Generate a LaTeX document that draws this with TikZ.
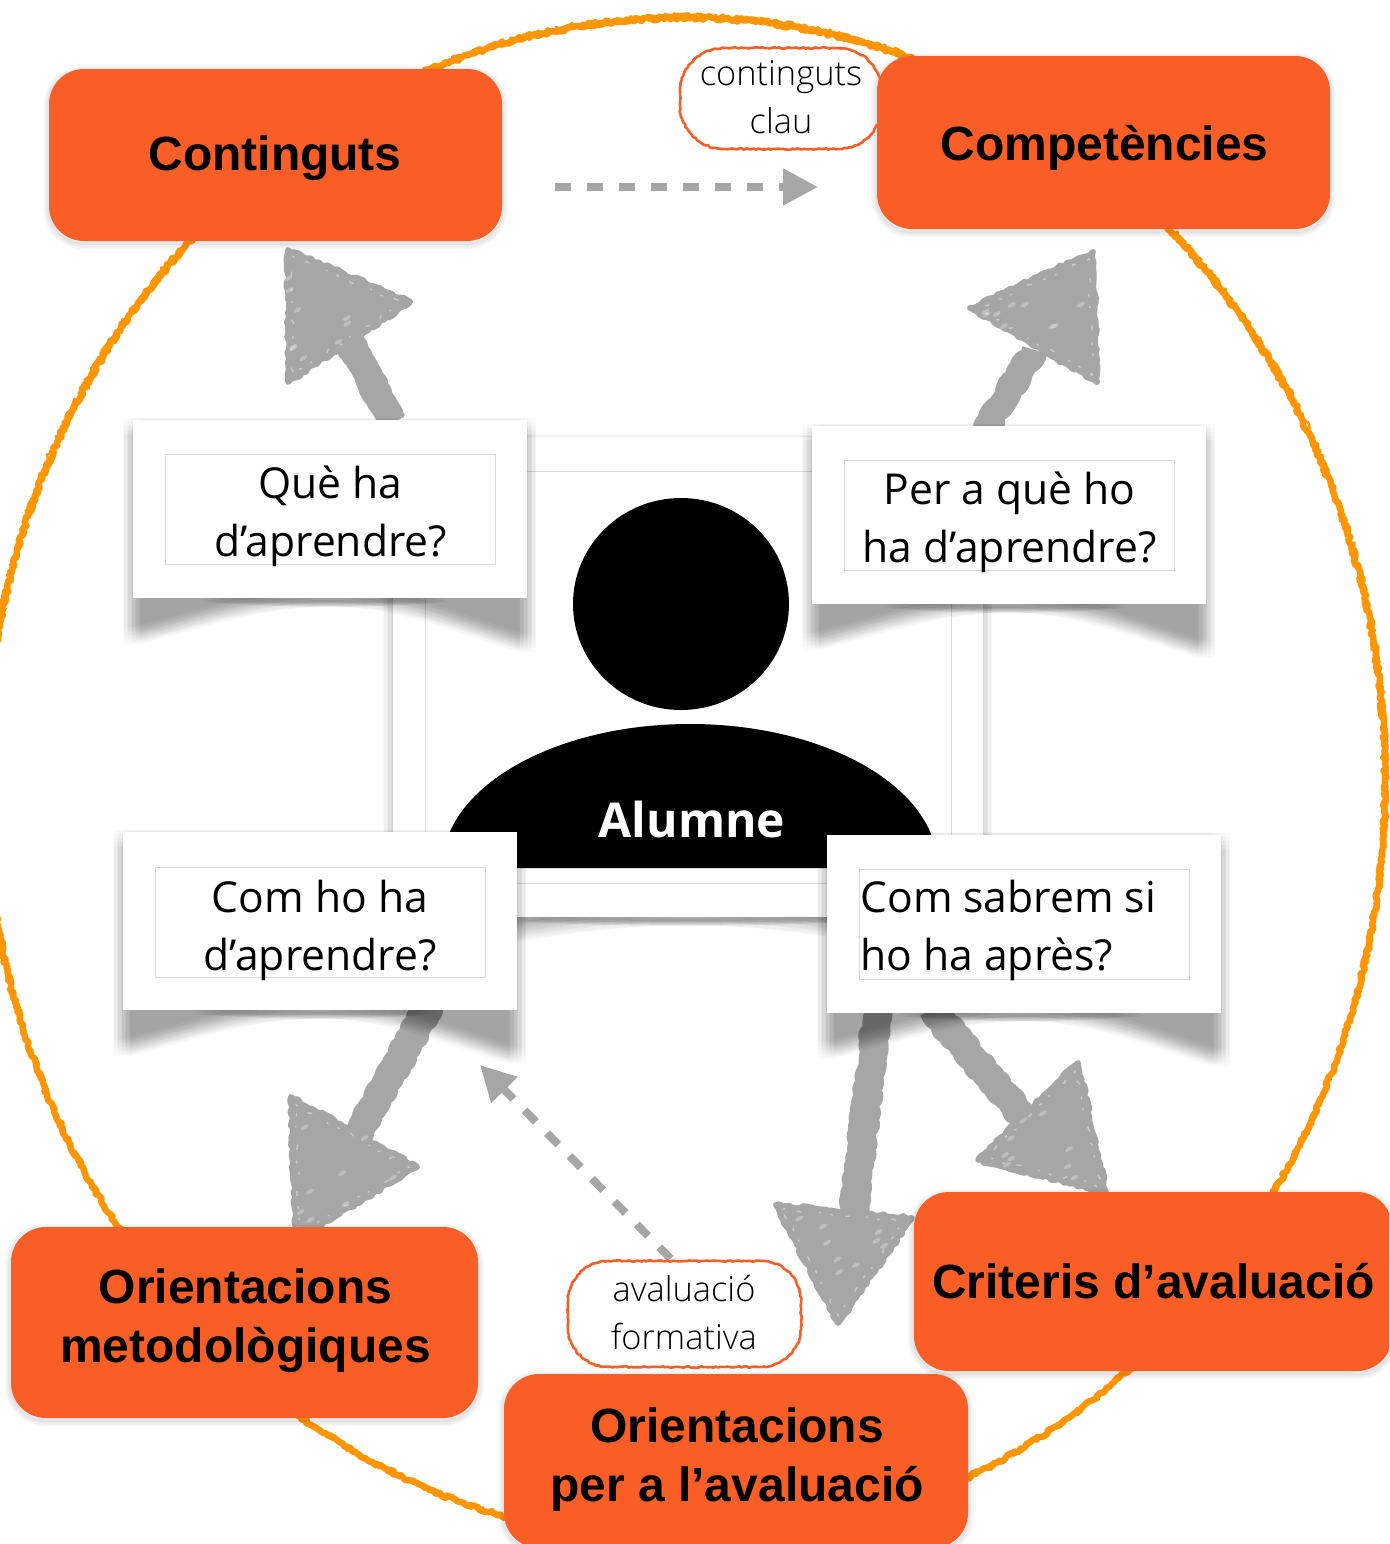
\documentclass[tikz,border=0pt]{standalone}
\usepackage{fontspec}
\setmainfont{Open Sans}
\newfontfamily\lightf{Open Sans Light}
\newfontfamily\headf{Liberation Sans}
\usetikzlibrary{calc,shapes.geometric,decorations.pathmorphing,arrows.meta}
\definecolor{boxor}{HTML}{F95E27}
\definecolor{ringor}{HTML}{FF9500}
\definecolor{arrowgr}{HTML}{A6A6A6}
\definecolor{linegr}{HTML}{DADADA}
\pgfdeclarelayer{ringlayer}
\pgfdeclarelayer{framelayer}
\pgfdeclarelayer{shadowlayer}
\pgfdeclarelayer{arrowlayer}
\pgfsetlayers{ringlayer,framelayer,arrowlayer,shadowlayer,main}
\tikzset{
  x=0.5pt,y=-0.5pt,
  orangebox/.style={fill=boxor,rounded corners=17.5pt,inner sep=0pt},
  boxtext/.style={inner sep=0pt,align=center,text=black,font=\headf\bfseries\fontsize{24}{29.5}\selectfont},
  cardbox/.style={fill=white,inner sep=0pt,minimum width=197pt,minimum height=89pt},
  cardrule/.style={draw=linegr,line width=.5pt,inner sep=0pt,minimum width=165pt,minimum height=55pt},
  cardtext/.style={inner sep=0pt,align=center,font=\fontsize{21.3}{29}\selectfont},
  pilltext/.style={inner sep=0pt,align=center,font=\lightf\fontsize{17.2}{24}\selectfont},
  pillline/.style={draw=boxor,line width=1.3pt,line join=round,decorate,decoration={random steps,segment length=1.2pt,amplitude=.35pt}},
  pillnode/.style={inner sep=0pt},
  ringline/.style={draw=ringor,line join=round,decorate,decoration={random steps,segment length=1.2pt,amplitude=.85pt}},
  roughshaft/.style={draw=arrowgr,line width=14pt,line join=round,decorate,decoration={random steps,segment length=2pt,amplitude=1.2pt}},
  roughhead/.style={fill=arrowgr,draw=arrowgr,line width=3pt,line join=round,decorate,decoration={random steps,segment length=2pt,amplitude=.8pt}},
  speckline/.style={draw=white,opacity=.4,line width=.7pt,dash pattern=on 1.5pt off 6pt on 2.5pt off 9pt on 1pt off 5pt,decorate,decoration={random steps,segment length=2pt,amplitude=.8pt}},
  dasharrow/.style={draw=arrowgr,line width=4pt,dash pattern=on 8pt off 8pt,
    -{Triangle[length=17.5pt,width=17.5pt,fill=arrowgr]}},
}
% faint soft edge round an orange box (strokes only: the box covers the inside)
\newcommand{\softbox}[1]{%
  \foreach \w in {1,2.5,4,5.5}{%
    \draw[black,opacity=.028,line width=\w pt,rounded corners=17.5pt]
      ([yshift=-1.2pt]#1.south west) rectangle ([yshift=-1.2pt]#1.north east);}}
% #1 node, #2 width px, #3 height px, #4 left drop, #5 right drop, #6 opacity of one pass
\newcommand{\curlshadow}[6]{%
  \foreach \dx in {-8,-4,0,4,8}{\foreach \dy in {-8,-4,0,4,8}{%
  \begin{scope}[shift={(#1.south west)},shift={(\dx,\dy)}]
    \fill[black,opacity=#6]
      (-1,-#3+6) -- (-1,#4) .. controls ({.16*#2},{.6*#4}) and ({.3*#2},0) .. ({.5*#2},0)
      .. controls ({.7*#2},0) and ({.84*#2},{.6*#5}) .. ({#2+1},#5) -- ({#2+1},-#3+6) -- cycle;
  \end{scope}}}
  \foreach \dy in {-3,-1.5,0,1.5,3}{%
  \begin{scope}[shift={(#1.south west)},shift={(0,\dy)}]
    \fill[black,opacity=.085]
      ({.18*#2},0) .. controls ({.35*#2},7) and ({.65*#2},7) .. ({.8*#2},0) -- cycle;
  \end{scope}}}
% rough rounded outline round a node: #1 node, #2 half width px, #3 half height px, #4 radius px
\newcommand{\pillpath}[4]{%
  \begin{scope}[shift={(#1.center)}]
  \draw[pillline] ({-#2+#4},-#3) -- ({#2-#4},-#3) .. controls ({#2-.45*#4},-#3) and (#2,{-#3+.45*#4}) .. (#2,{-#3+#4})
    -- (#2,{#3-#4}) .. controls (#2,{#3-.45*#4}) and ({#2-.45*#4},#3) .. ({#2-#4},#3)
    -- ({-#2+#4},#3) .. controls ({-#2+.45*#4},#3) and (-#2,{#3-.45*#4}) .. (-#2,{#3-#4})
    -- (-#2,{-#3+#4}) .. controls (-#2,{-#3+.45*#4}) and ({-#2+.45*#4},-#3) .. ({-#2+#4},-#3) -- cycle;
  \end{scope}}
% rough arrow head with porous edges and pale flecks
\newcommand{\roughtri}[6]{%
  \draw[roughhead] (#1,#2) -- (#3,#4) -- (#5,#6) -- cycle;
  \pgfmathsetmacro{\cx}{(#1+#3+#5)/3}
  \pgfmathsetmacro{\cy}{(#2+#4+#6)/3}
  \draw[speckline] ({#1+.1*(\cx-#1)},{#2+.1*(\cy-#2)}) -- ({#3+.1*(\cx-#3)},{#4+.1*(\cy-#4)})
     -- ({#5+.1*(\cx-#5)},{#6+.1*(\cy-#6)}) -- cycle;
  \foreach \i in {1,...,9}{%
    \pgfmathsetmacro{\ra}{sqrt(rnd)}
    \pgfmathsetmacro{\rb}{rnd}
    \pgfmathsetmacro{\px}{(1-\ra)*#1+\ra*(1-\rb)*#3+\ra*\rb*#5}
    \pgfmathsetmacro{\py}{(1-\ra)*#2+\ra*(1-\rb)*#4+\ra*\rb*#6}
    \fill[white,opacity=.28,rotate around={30:(\px,\py)}] (\px,\py) ellipse [x radius=4.5,y radius=2];}}
\begin{document}
\begin{tikzpicture}
\pgfmathsetseed{7}
\useasboundingbox (0,0) rectangle (1389,1544);
\clip (0,0) rectangle (1389,1544);

% orange boxes
\node[orangebox,minimum width=226.5pt,minimum height=86pt] (contingut) at (275.5,155) {};
\node[boxtext] (contingutt) at (275,158) {Continguts};
\node[orangebox,minimum width=226.5pt,minimum height=86.5pt] (compet) at (1103.5,142.5) {};
\node[boxtext] (compett) at (1104.5,148) {Compet\`encies};
\node[orangebox,minimum width=233.5pt,minimum height=95.5pt] (ormet) at (244.5,1322.5) {};
\node[boxtext] (ormett) at (245.5,1321) {Orientacions\\metodol\`ogiques};
\node[orangebox,minimum width=239pt,minimum height=89.5pt] (crit) at (1153,1281.5) {};
\node[boxtext] (critt) at (1153.5,1281.5) {Criteris d’avaluaci\'o};
\node[orangebox,minimum width=232pt,minimum height=87pt] (oraval) at (736,1461) {};
\node[boxtext] (oravalt) at (737,1460) {Orientacions\\per a l’avaluaci\'o};

% cards
\node[cardbox] (q1) at (330,509) {};
\node[cardrule] (q1r) at (330,509) {};
\node[cardtext] (q1t) at (330.5,516.5) {Qu\`e ha\\d’aprendre?};
\node[cardbox] (q2) at (1009,515) {};
\node[cardrule] (q2r) at (1009,515) {};
\node[cardtext] (q2t) at (1009.5,522) {Per a qu\`e ho\\ha d’aprendre?};
\node[cardbox] (q3) at (320,921) {};
\node[cardrule] (q3r) at (320,922) {};
\node[cardtext] (q3t) at (320,930) {Com ho ha\\d’aprendre?};
\node[cardbox] (q4) at (1024,923.5) {};
\node[cardrule] (q4r) at (1024,924) {};
\node[cardtext,align=flush left,anchor=west] (q4t) at (860,930) {Com sabrem si\\ho ha apr\`es?};

% pills
\node[pillnode,minimum width=101pt,minimum height=50.5pt] (pclau) at (781,98.5) {};
\node[pilltext] (pclaut) at (781,97.5) {continguts\\clau};
\pillpath{pclau}{101}{50.5}{44}
\node[pillnode,minimum width=116.5pt,minimum height=53pt] (pform) at (684.5,1314) {};
\node[pilltext] (pformt) at (684,1312) {avaluaci\'o\\formativa};
\pillpath{pform}{116.5}{53}{40}

% student
\node[ellipse,fill=black,inner sep=0pt,minimum width=108pt,minimum height=106pt] (head) at (681,604) {};
\node[text=white,inner sep=0pt,font=\bfseries\fontsize{24}{29}\selectfont] (alumne) at (692,819) {Alumne};

\begin{pgfonlayer}{ringlayer}
  \fill[white] (0,0) rectangle (1389,1544);
  \draw[ringline,line width=3.2pt] (685,780) ellipse [x radius=700,y radius=762];
  \draw[ringline,line width=1.2pt] (685,778) ellipse [x radius=702,y radius=763];
\end{pgfonlayer}

\begin{pgfonlayer}{framelayer}
  \node[inner sep=0pt,minimum width=295pt,minimum height=240pt] (frameout) at (688,677) {};
  \curlshadow{frameout}{590}{480}{38}{38}{.011}
  \fill[white] (frameout.south west) rectangle (frameout.north east);
  \node[draw=linegr,line width=.5pt,inner sep=0pt,minimum width=263pt,minimum height=206pt] (framein) at (688,677) {};
  \fill[black] (442,868) .. controls (442,788) and (553,724) .. (690,724)
     .. controls (827,724) and (938,788) .. (938,868) -- cycle;
\end{pgfonlayer}

\begin{pgfonlayer}{shadowlayer}
  \softbox{contingut}\softbox{compet}\softbox{ormet}\softbox{crit}\softbox{oraval}
  \curlshadow{q1}{394}{178}{38}{46}{.0165}
  \curlshadow{q2}{394}{178}{38}{46}{.0165}
  \curlshadow{q3}{394}{178}{38}{46}{.0165}
  \curlshadow{q4}{394}{178}{38}{46}{.0165}
\end{pgfonlayer}

\coordinate (tipa) at (345,335);
\coordinate (tipb) at (1035,350);
\coordinate (tipc) at (358,1135);
\coordinate (tipd) at (853,1215);
\coordinate (tipe) at (1030,1125);
\coordinate (dstart) at (555,187);
\coordinate (dend) at (818,187);
\coordinate (dtip) at (480,1065);

\begin{pgfonlayer}{arrowlayer}
  % rough arrows
  \draw[roughshaft] ([xshift=32pt,yshift=-2pt]q1.north) -- (tipa);
  \roughtri{288}{250}{410}{302}{288}{382}
  \draw[roughshaft,line width=13pt] ([xshift=-12pt,yshift=-2pt]q2.north) -- (tipb);
  \roughtri{1093}{252}{970}{308}{1097}{382}
  \draw[roughshaft] ([xshift=55pt,yshift=3pt]q3.south) -- (tipc);
  \roughtri{291}{1097}{417}{1167}{296}{1240}
  \draw[roughshaft] ([xshift=-73pt,yshift=3pt]q4.south) -- (tipd);
  \roughtri{776}{1205}{912}{1218}{838}{1323}
  \draw[roughshaft] ([xshift=-47pt,yshift=3pt]q4.south) -- (tipe);
  \roughtri{1078}{1063}{978}{1160}{1106}{1192}
  % dashed arrows
  \draw[dasharrow] (dstart) -- (dend);
  \draw[dasharrow] ([xshift=-7pt,yshift=1pt]pform.north) -- (dtip);
\end{pgfonlayer}
\end{tikzpicture}
\end{document}
